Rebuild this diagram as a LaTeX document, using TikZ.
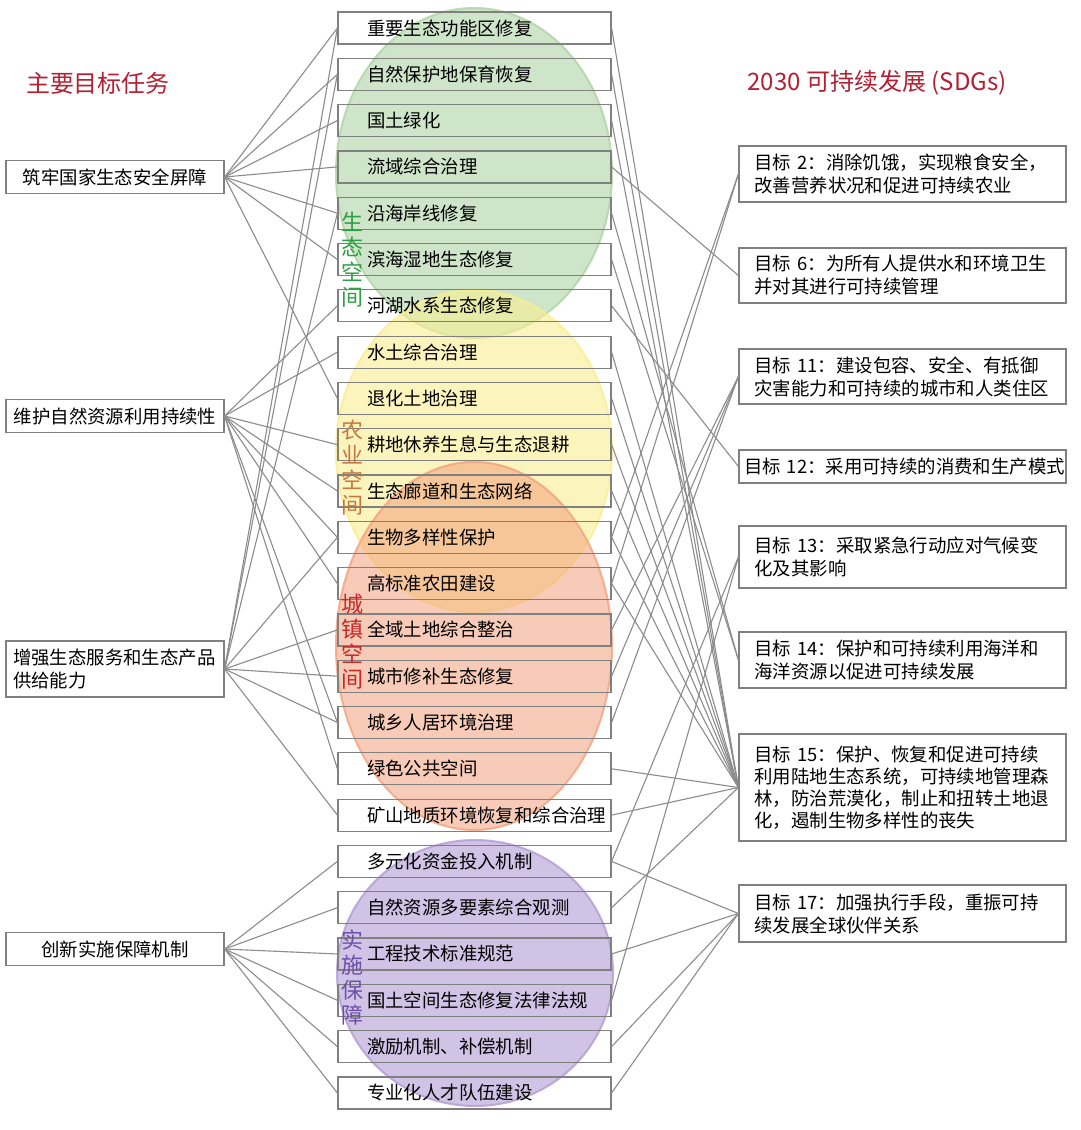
\documentclass[tikz,border=0pt]{standalone}
\usepackage{fontspec}
\setmainfont{Noto Sans CJK SC}
\usepackage{xcolor}
\definecolor{boxgray}{RGB}{128,128,128}
\definecolor{linegray}{RGB}{140,140,140}
\definecolor{titlered}{RGB}{178,34,52}
\definecolor{ecogreen}{RGB}{46,160,67}
\definecolor{farmbrown}{RGB}{196,120,60}
\definecolor{townred}{RGB}{200,40,40}
\definecolor{guardpurple}{RGB}{110,80,170}
\definecolor{ecofill}{RGB}{175,212,165}
\definecolor{farmfill}{RGB}{250,238,145}
\definecolor{townfill}{RGB}{242,162,125}
\definecolor{guardfill}{RGB}{178,155,212}

\begin{document}
\begin{tikzpicture}[x=1pt,y=-1pt,node distance=46.3pt,font=\fontsize{18.4}{23}\selectfont]
        \tikzstyle{task}=[draw=boxgray,line width=1.2pt,minimum height=32pt,text width=215pt,inner xsep=29pt,inner ysep=0pt,align=left]
        \tikzstyle{aim}=[draw=boxgray,line width=1.2pt,minimum width=218pt,minimum height=33pt,inner sep=0pt,align=center]
        \tikzstyle{sdg}=[draw=boxgray,line width=1.2pt,text width=296pt,inner xsep=15.5pt,inner ysep=3pt,align=left]
        \tikzstyle{headline}=[text=titlered,font=\fontsize{24}{28}\selectfont]
        \tikzstyle{zone}=[font=\fontsize{22}{25}\selectfont,align=center,inner sep=0pt]
        \tikzstyle{blob}=[fill opacity=0.6,draw opacity=0.8,line width=2pt]
        \tikzstyle{link}=[draw=linegray,line width=1.1pt]

        \fill[white] (0,0) rectangle (1080,1130);
        \useasboundingbox (0,0) rectangle (1080,1130);

        % the four spaces
        \path[blob,fill=ecofill,draw=ecofill]     (474,173) ellipse [x radius=138pt,y radius=165pt];
        \path[blob,fill=farmfill,draw=farmfill]   (474,451) ellipse [x radius=138pt,y radius=161pt];
        \path[blob,fill=townfill,draw=townfill,fill opacity=0.55] (474,646) ellipse [x radius=138pt,y radius=184pt];
        \path[blob,fill=guardfill,draw=guardfill] (475,973) ellipse [x radius=138pt,y radius=133pt];

        \node[headline] (aimtitle) at (98,83)  {主要目标任务};
        \node[headline] (sdgtitle) at (877,83) {2030 可持续发展 (SDGs)};

        \node[aim] (L1) at (115,177) {筑牢国家生态安全屏障};
        \node[aim] (L2) at (115,416) {维护自然资源利用持续性};
        \node[aim,text width=204pt,align=left,minimum height=56pt] (L3) at (115,669) {增强生态服务和生态产品\\供给能力};
        \node[aim] (L4) at (115,949) {创新实施保障机制};

        \node[task] (M1)  at (474.5,28)      {重要生态功能区修复};
        \node[task] (M2)  [below of=M1]      {自然保护地保育恢复};
        \node[task] (M3)  [below of=M2]      {国土绿化};
        \node[task] (M4)  [below of=M3]      {流域综合治理};
        \node[task] (M5)  [below of=M4]      {沿海岸线修复};
        \node[task] (M6)  [below of=M5]      {滨海湿地生态修复};
        \node[task] (M7)  [below of=M6]      {河湖水系生态修复};
        \node[task] (M8)  [below of=M7]      {水土综合治理};
        \node[task] (M9)  [below of=M8]      {退化土地治理};
        \node[task] (M10) [below of=M9]      {耕地休养生息与生态退耕};
        \node[task] (M11) [below of=M10]     {生态廊道和生态网络};
        \node[task] (M12) [below of=M11]     {生物多样性保护};
        \node[task] (M13) [below of=M12]     {高标准农田建设};
        \node[task] (M14) [below of=M13]     {全域土地综合整治};
        \node[task] (M15) [below of=M14]     {城市修补生态修复};
        \node[task] (M16) [below of=M15]     {城乡人居环境治理};
        \node[task] (M17) [below of=M16]     {绿色公共空间};
        \node[task] (M18) [below of=M17]     {矿山地质环境恢复和综合治理};
        \node[task] (M19) [below of=M18]     {多元化资金投入机制};
        \node[task] (M20) [below of=M19]     {自然资源多要素综合观测};
        \node[task] (M21) [below of=M20]     {工程技术标准规范};
        \node[task] (M22) [below of=M21]     {国土空间生态修复法律法规};
        \node[task] (M23) [below of=M22]     {激励机制、补偿机制};
        \node[task] (M24) [below of=M23]     {专业化人才队伍建设};

        \node[zone,text=ecogreen]    (ecolabel)   at (352,260) {生\\态\\空\\间};
        \node[zone,text=farmbrown]   (farmlabel)  at (352,468) {农\\业\\空\\间};
        \node[zone,text=townred]     (townlabel)  at (352,642) {城\\镇\\空\\间};
        \node[zone,text=guardpurple] (guardlabel) at (352,978) {实\\施\\保\\障};

        \node[sdg,minimum height=56pt]  (G2)  at (902.5,174)   {目标 2：消除饥饿，实现粮食安全，\\改善营养状况和促进可持续农业};
        \node[sdg,minimum height=55pt]  (G6)  at (902.5,275.5) {目标 6：为所有人提供水和环境卫生\\并对其进行可持续管理};
        \node[sdg,minimum height=55pt]  (G11) at (902.5,376.5) {目标 11：建设包容、安全、有抵御\\灾害能力和可持续的城市和人类住区};
        \node[sdg,minimum height=33pt,text width=317pt,inner xsep=5pt] (G12) at (902.5,466.5) {目标~12：采用可持续的消费和生产模式};
        \node[sdg,minimum height=62pt]  (G13) at (902.5,557)   {目标 13：采取紧急行动应对气候变\\化及其影响};
        \node[sdg,minimum height=56pt]  (G14) at (902.5,660)   {目标 14：保护和可持续利用海洋和\\海洋资源以促进可持续发展};
        \node[sdg,minimum height=107pt,font=\fontsize{18.4}{22}\selectfont] (G15) at (902.5,787.5) {目标 15：保护、恢复和促进可持续\\利用陆地生态系统，可持续地管理森\\林，防治荒漠化，制止和扭转土地退\\化，遏制生物多样性的丧失};
        \node[sdg,minimum height=57pt]  (G17) at (902.5,913.5) {目标 17：加强执行手段，重振可持\\续发展全球伙伴关系};

        \path[link] (L1.east) edge (M1.west)
                              edge (M2.west)
                              edge (M3.west)
                              edge (M4.west)
                              edge (M5.west)
                              edge (M6.west)
                              edge (M9.west)
                    (L2.east) edge (M7.west)
                              edge (M8.west)
                              edge (M10.west)
                              edge (M11.west)
                              edge (M12.west)
                              edge (M13.west)
                              edge (M16.west)
                              edge (M17.west)
                    (L3.east) edge (M1.west)
                              edge (M2.west)
                              edge (M5.west)
                              edge (M12.west)
                              edge (M14.west)
                              edge (M15.west)
                              edge (M16.west)
                              edge (M18.west)
                    (L4.east) edge (M19.west)
                              edge (M20.west)
                              edge (M21.west)
                              edge (M22.west)
                              edge (M23.west)
                              edge (M24.west)
        ;

        \path[link] (M1.east)  edge (G15.west)
                    (M2.east)  edge (G15.west)
                    (M3.east)  edge (G15.west)
                    (M4.east)  edge (G6.west)
                    (M5.east)  edge (G14.west)
                    (M6.east)  edge (G14.west)
                    (M7.east)  edge (G12.west)
                    (M8.east)  edge (G15.west)
                    (M9.east)  edge (G15.west)
                    (M10.east) edge (G15.west)
                    (M11.east) edge (G15.west)
                    (M12.east) edge (G2.west)
                               edge (G15.west)
                    (M13.east) edge (G2.west)
                               edge (G15.west)
                    (M14.east) edge (G11.west)
                    (M15.east) edge (G11.west)
                    (M16.east) edge (G11.west)
                    (M17.east) edge (G15.west)
                    (M18.east) edge (G15.west)
                    (M19.east) edge (G13.west)
                               edge (G17.west)
                    (M20.east) edge (G15.west)
                    (M21.east) edge (G17.west)
                    (M22.east) edge (G13.west)
                    (M23.east) edge (G17.west)
                    (M24.east) edge (G17.west)
        ;
\end{tikzpicture}
\end{document}
